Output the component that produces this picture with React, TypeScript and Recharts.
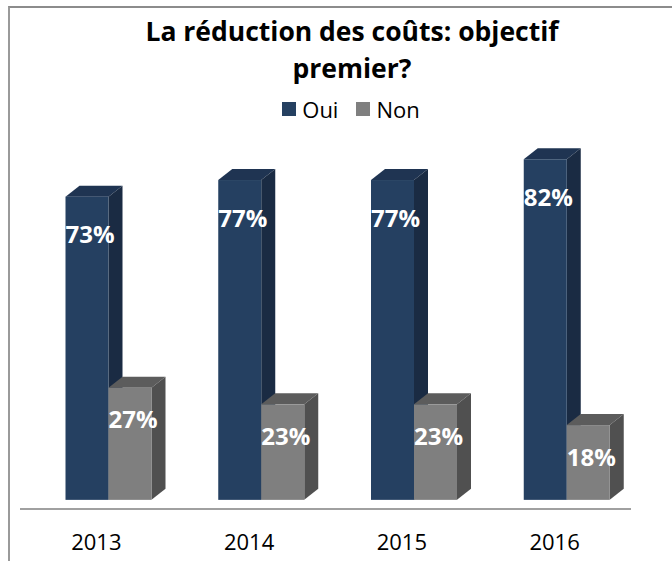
import React from 'react';
import { BarChart, Bar, XAxis, YAxis, Legend, LabelList } from 'recharts';

const categories = ['2013', '2014', '2015', '2016'];
const ouiValues = [73, 77, 77, 82];
const nonValues = [27, 23, 23, 18];
const seriesNames = ['Oui', 'Non'];
const titleLines = ['La réduction des coûts: objectif', 'premier?'];

const data = categories.map((c, i) => ({ year: c, oui: ouiValues[i], non: nonValues[i] }));

const FONT = '"Open Sans", sans-serif';
const DX = 14;
const DY = 11;
const SHIFT = 12.5;

const PAL = {
  oui: { front: '#254061', top: '#1F3452', side: '#1A2B43' },
  non: { front: '#7F7F7F', top: '#5C5C5C', side: '#505050' },
};

const makeShape = (pal: { front: string; top: string; side: string }) => (props: any) => {
  const { x, y, width, height } = props;
  if (width == null || height == null) return <g />;
  const x0 = x + SHIFT;
  const x1 = x0 + width;
  const yb = y + height;
  return (
    <g>
      <polygon points={`${x0},${y} ${x0 + DX},${y - DY} ${x1 + DX},${y - DY} ${x1},${y}`} fill={pal.top} />
      <polygon points={`${x1},${y} ${x1 + DX},${y - DY} ${x1 + DX},${yb - DY} ${x1},${yb}`} fill={pal.side} />
      <rect x={x0} y={y} width={width} height={height} fill={pal.front} />
    </g>
  );
};

const makeLabel = (dyOff: number) => (props: any) => {
  const { x, y, width, value } = props;
  return (
    <text
      x={x + SHIFT + width / 2 + 3}
      y={y + dyOff}
      textAnchor="middle"
      dominantBaseline="central"
      fill="#FFFFFF"
      fontFamily={FONT}
      fontWeight={700}
      fontSize={24}
    >
      {`${value}%`}
    </text>
  );
};

const YearTick = (props: any) => {
  const { x, payload } = props;
  return (
    <text x={x} y={550} textAnchor="middle" fill="#000" fontFamily={FONT} fontSize={22}>
      {payload.value}
    </text>
  );
};

const LegendContent = () => (
  <div style={{ display: 'flex', justifyContent: 'center', alignItems: 'center', fontFamily: FONT, fontSize: 22, color: '#000', height: 26, paddingLeft: 30 }}>
    <span style={{ width: 14, height: 14, background: PAL.oui.front, display: 'inline-block', marginRight: 6 }} />
    <span style={{ marginRight: 18 }}>{seriesNames[0]}</span>
    <span style={{ width: 14, height: 14, background: PAL.non.front, display: 'inline-block', marginRight: 6 }} />
    <span>{seriesNames[1]}</span>
  </div>
);

export default function App() {
  return (
    <div style={{ position: 'absolute', left: 0, top: 0, width: 672, height: 561, background: '#fff' }}>
      <BarChart
        width={672}
        height={561}
        data={data}
        margin={{ top: 84.5, right: 41, bottom: 0, left: 20 }}
        barSize={43}
        barGap={0}
      >
        <XAxis
          dataKey="year"
          height={52}
          axisLine={{ stroke: '#A0A0A0', strokeWidth: 2 }}
          tickLine={false}
          tick={<YearTick />}
        />
        <YAxis hide type="number" domain={[-2.2, 100]} allowDataOverflow />
        <Legend
          verticalAlign="middle"
          align="center"
          layout="horizontal"
          wrapperStyle={{ top: 96, left: 0, width: 672 }}
          content={<LegendContent />}
        />
        <Bar dataKey="oui" name={seriesNames[0]} fill={PAL.oui.front} shape={makeShape(PAL.oui)} isAnimationActive={false}>
          <LabelList dataKey="oui" content={makeLabel(37)} />
        </Bar>
        <Bar dataKey="non" name={seriesNames[1]} fill={PAL.non.front} shape={makeShape(PAL.non)} isAnimationActive={false}>
          <LabelList dataKey="non" content={makeLabel(31)} />
        </Bar>
      </BarChart>
      <div
        style={{
          position: 'absolute', left: 8, top: 6, width: 664, height: 555, boxSizing: 'border-box',
          borderLeft: '2px solid #9A9A9A', borderTop: '2px solid #8C8C8C', pointerEvents: 'none',
        }}
      />
      <div
        style={{
          position: 'absolute', left: 40, top: 13, width: 624, textAlign: 'center',
          fontFamily: FONT, fontWeight: 700, fontSize: 26.5, lineHeight: '37px', color: '#000',
        }}
      >
        {titleLines.map((l) => (
          <div key={l}>{l}</div>
        ))}
      </div>
    </div>
  );
}
